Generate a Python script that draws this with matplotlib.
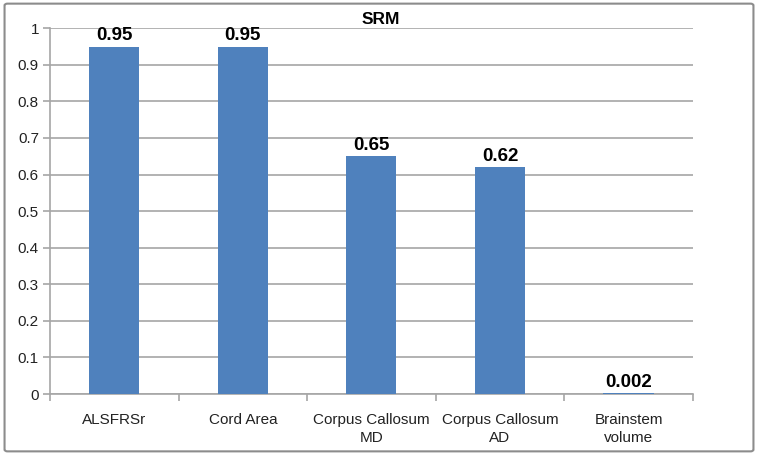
import matplotlib
matplotlib.use("Agg")
import matplotlib.pyplot as plt
from matplotlib.patches import FancyBboxPatch
import numpy as np

categories = ["ALSFRSr", "Cord Area", "Corpus Callosum\nMD", "Corpus Callosum\nAD", "Brainstem\nvolume"]
srm_values = [0.95, 0.95, 0.65, 0.62, 0.002]
value_labels = ["0.95", "0.95", "0.65", "0.62", "0.002"]
y_ticks = [0, 0.1, 0.2, 0.3, 0.4, 0.5, 0.6, 0.7, 0.8, 0.9, 1.0]
y_tick_labels = ["0", "0.1", "0.2", "0.3", "0.4", "0.5", "0.6", "0.7", "0.8", "0.9", "1"]

BAR_COLOR = "#4F81BD"
GRID_COLOR = "#A6A6A6"

plt.rcParams["font.family"] = ["Liberation Sans", "DejaVu Sans"]

fig = plt.figure(figsize=(7.58, 4.55), dpi=100)
ax = fig.add_axes([0.066, 0.134, 0.848, 0.804])

x = np.arange(len(categories))
ax.bar(x, srm_values, width=0.39, color=BAR_COLOR, zorder=3)

for xi, v, lab in zip(x, srm_values, value_labels):
    ax.text(xi, v + 0.006, lab, ha="center", va="bottom", fontsize=13.5,
            fontweight="bold", color="black", zorder=4)

ax.set_xlim(-0.5, len(categories) - 0.5)
ax.set_ylim(0, 1)
ax.set_yticks(y_ticks)
ax.set_yticklabels(y_tick_labels, fontsize=11, color="#222222")
ax.yaxis.grid(True, color=GRID_COLOR, linewidth=1.2, zorder=0)

# category labels centred, tick marks on boundaries
ax.set_xticks(x)
ax.set_xticklabels(categories, fontsize=11, color="#222222", linespacing=1.3)
ax.tick_params(axis="x", which="major", length=0, pad=14)
ax.set_xticks(np.arange(-0.5, len(categories)), minor=True)
ax.tick_params(axis="x", which="minor", length=5, color=GRID_COLOR, width=1.2)
ax.tick_params(axis="y", length=5, color=GRID_COLOR, width=1.2, pad=3)

for side in ["top", "right"]:
    ax.spines[side].set_visible(False)
for side in ["left", "bottom"]:
    ax.spines[side].set_color(GRID_COLOR)
    ax.spines[side].set_linewidth(1.2)

fig.text(0.502, 0.958, "SRM", ha="center", va="center", fontsize=12.5, fontweight="bold")

border = FancyBboxPatch((0.006, 0.008), 0.988, 0.984, boxstyle="round,pad=0,rounding_size=0.004",
                        transform=fig.transFigure, fill=False, edgecolor="#8C8C8C", linewidth=1.5)
fig.patches.append(border)

fig.savefig("out.png", dpi=100)
